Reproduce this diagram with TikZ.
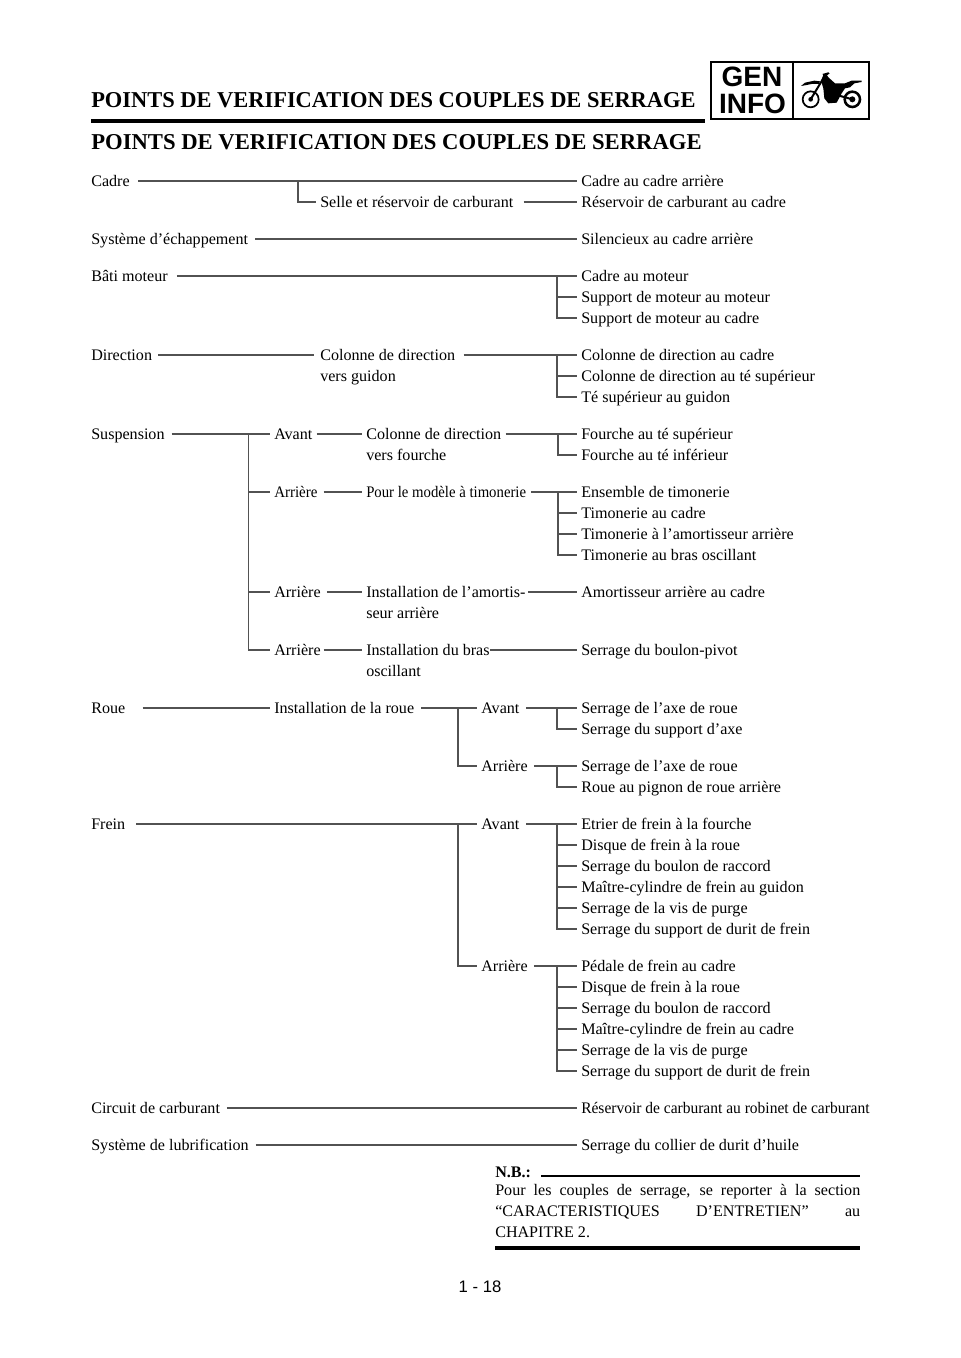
\documentclass[tikz,border=0pt]{standalone}
\usepackage{fontspec}
\setmainfont{Liberation Serif}
\newfontfamily\headsans{Liberation Sans}
\usetikzlibrary{positioning,calc}

\tikzset{
lbl/.style={anchor=west,inner xsep=0pt,inner ysep=0pt,text height=10pt,text depth=2pt,font=\fontsize{12.07}{14}\selectfont},
link/.style={draw=black!68,line width=1pt},
fat/.style={draw=black,line width=2pt},
headline/.style={anchor=base west,inner sep=0pt,font=\fontsize{17}{20}\bfseries\selectfont}
}
\newcommand{\tight}[2]{\scalebox{#1}[1]{#2}}

\begin{document}
\begin{tikzpicture}[x=.75pt,y=-.75pt]
\useasboundingbox (0,0) rectangle (960,1358);
% page head
\node[headline] (head) at (91,108) {\scalebox{.99}[1]{POINTS DE VERIFICATION DES COUPLES DE SERRAGE}};
\node[headline] (title) at (91,149.5) {POINTS DE VERIFICATION DES COUPLES DE SERRAGE};
\coordinate (headl) at (91,121);
\coordinate (headr) at (705,121);
\draw[fat,line width=2.6pt] (headl) -- (headr);
% logo
\node[draw=black,line width=1.6pt,minimum width=118.5pt,minimum height=42.75pt,inner sep=0pt,anchor=north west] (logo) at (710,61) {};
\draw[line width=1.2pt] (793,61) -- (793,118);
\node[inner sep=0pt,font=\headsans\bfseries\fontsize{21}{21}\selectfont] (gen) at (752,76.5) {GEN};
\node[inner sep=0pt,font=\headsans\bfseries\fontsize{21}{21}\selectfont] (info) at (752.5,103.5) {INFO};
\begin{scope}[shift={(795,60)},x=.25pt,y=-.25pt]
\draw[line width=1.3pt] (47,118) circle (24);
\draw[line width=1.9pt] (172,118) circle (23);
\fill (47,118) circle (7) (172,118) circle (9);
\fill (18,78) -- (30,68) -- (58,62) -- (75,64) -- (72,72) -- (50,72) -- (30,76) -- cycle;
\fill (78,62) -- (85,45) -- (82,42) -- (100,37) -- (104,40) -- (96,46) -- (100,52) -- (120,70) -- (150,70) -- (170,62) -- (200,62) -- (200,66) -- (178,70) -- (165,82) -- (150,85) -- (140,100) -- (125,128) -- (100,130) -- (88,115) -- (85,85) -- cycle;
\draw[line width=1.5pt] (47,118) -- (82,60) (172,118) -- (125,105);
\end{scope}

% cadre
\node[lbl] (cadre) at (91,181) {Cadre};
\node[lbl] (selle) at (320,202) {Selle et réservoir de carburant};
\node[lbl] (cadrearr) at (581,181) {Cadre au cadre arrière};
\node[lbl] (resarr) at (581,202) {Réservoir de carburant au cadre};
\coordinate (cadrej) at (298,181);
\draw[link,shorten <=6.4pt,shorten >=3pt] (cadre.east) -- (cadrearr.west);
\draw[link,shorten >=3pt] (cadrej) |- (selle.west);
\draw[link,shorten <=7.5pt,shorten >=3pt] (selle.east) -- (resarr.west);
% echappement
\node[lbl] (echap) at (91,239) {Système d’échappement};
\node[lbl] (silenc) at (581,239) {Silencieux au cadre arrière};
\draw[link,shorten <=5pt,shorten >=3pt] (echap.east) -- (silenc.west);
% moteur
\node[lbl] (bati) at (91,276) {Bâti moteur};
\node[lbl] (mota) at (581,276) {Cadre au moteur};
\node[lbl] (motb) at (581,297) {Support de moteur au moteur};
\node[lbl] (motc) at (581,318) {Support de moteur au cadre};
\coordinate (motj) at (557,276);
\draw[link,shorten <=6.75pt,shorten >=3pt] (bati.east) -- (mota.west);
\draw[link,shorten >=3pt] (motj) |- (motb.west);
\draw[link,shorten >=3pt] (motj) |- (motc.west);
% direction
\node[lbl] (direc) at (91,355) {Direction};
\node[lbl] (colonne) at (320,355) {Colonne de direction};
\node[lbl] (guidon) at (320,376) {vers guidon};
\node[lbl] (dira) at (581,355) {Colonne de direction au cadre};
\node[lbl] (dirb) at (581,376) {Colonne de direction au té supérieur};
\node[lbl] (dirc) at (581,397) {Té supérieur au guidon};
\coordinate (dirj) at (557,355);
\draw[link,shorten <=4.5pt,shorten >=4.5pt] (direc.east) -- (colonne.west);
\draw[link,shorten <=6pt,shorten >=3pt] (colonne.east) -- (dira.west);
\draw[link,shorten >=3pt] (dirj) |- (dirb.west);
\draw[link,shorten >=3pt] (dirj) |- (dirc.west);
% suspension
\node[lbl] (susp) at (91,434) {Suspension};
\node[lbl] (avant) at (274,434) {Avant};
\node[lbl] (arra) at (274,492) {\tight{.93}{Arrière}};
\node[lbl] (arrb) at (274,592) {Arrière};
\node[lbl] (arrc) at (274,650) {Arrière};
\coordinate (suspj) at (248.5,434);
\draw[link,shorten <=5pt,shorten >=3pt] (susp.east) -- (avant.west);
\draw[link,shorten >=3pt] (suspj) |- (arra.west);
\draw[link,shorten >=3pt] (suspj) |- (arrb.west);
\draw[link,shorten >=3pt] (suspj) |- (arrc.west);
\node[lbl] (colfour) at (366,434) {Colonne de direction};
\node[lbl] (vfour) at (366,455) {vers fourche};
\node[lbl] (modele) at (366,492) {\tight{.917}{Pour le modèle à timonerie}};
\node[lbl] (amort) at (366,592) {Installation de l’amortis-};
\node[lbl] (samort) at (366,613) {seur arrière};
\node[lbl] (bras) at (366,650) {Installation du bras};
\node[lbl] (osc) at (366,671) {oscillant};
\draw[link,shorten <=3pt,shorten >=3pt] (avant.east) -- (colfour.west);
\draw[link,shorten <=4.5pt,shorten >=3pt] (arra.east) -- (modele.west);
\draw[link,shorten <=4.5pt,shorten >=3pt] (arrb.east) -- (amort.west);
\draw[link,shorten <=2pt,shorten >=3pt] (arrc.east) -- (bras.west);
\node[lbl] (foua) at (581,434) {Fourche au té supérieur};
\node[lbl] (foub) at (581,455) {Fourche au té inférieur};
\node[lbl] (tima) at (581,492) {Ensemble de timonerie};
\node[lbl] (timb) at (581,513) {Timonerie au cadre};
\node[lbl] (timc) at (581,534) {Timonerie à l’amortisseur arrière};
\node[lbl] (timd) at (581,555) {Timonerie au bras oscillant};
\node[lbl] (amorta) at (581,592) {Amortisseur arrière au cadre};
\node[lbl] (pivot) at (581,650) {Serrage du boulon-pivot};
\coordinate (fouj) at (558,434);
\coordinate (timj) at (558,492);
\draw[link,shorten <=3pt,shorten >=3pt] (colfour.east) -- (foua.west);
\draw[link,shorten >=3pt] (fouj) |- (foub.west);
\draw[link,shorten <=3.75pt,shorten >=3pt] (modele.east) -- (tima.west);
\draw[link,shorten >=3pt] (timj) |- (timb.west);
\draw[link,shorten >=3pt] (timj) |- (timc.west);
\draw[link,shorten >=3pt] (timj) |- (timd.west);
\draw[link,shorten <=2pt,shorten >=3pt] (amort.east) -- (amorta.west);
\draw[link,shorten >=3pt] (bras.east) -- (pivot.west);
% roue
\node[lbl] (roue) at (91,708) {Roue};
\node[lbl] (instroue) at (274,708) {Installation de la roue};
\node[lbl] (ravant) at (481,708) {Avant};
\node[lbl] (rarr) at (481,766) {Arrière};
\node[lbl] (roua) at (581,708) {Serrage de l’axe de roue};
\node[lbl] (roub) at (581,729) {Serrage du support d’axe};
\node[lbl] (rouc) at (581,766) {Serrage de l’axe de roue};
\node[lbl] (roud) at (581,787) {Roue au pignon de roue arrière};
\coordinate (rouej) at (458,708);
\coordinate (rouaj) at (557,708);
\coordinate (roucj) at (557,766);
\draw[link,shorten <=12.75pt,shorten >=3pt] (roue.east) -- (instroue.west);
\draw[link,shorten <=5pt,shorten >=3pt] (instroue.east) -- (ravant.west);
\draw[link,shorten >=3pt] (rouej) |- (rarr.west);
\draw[link,shorten <=5pt,shorten >=3pt] (ravant.east) -- (roua.west);
\draw[link,shorten >=3pt] (rouaj) |- (roub.west);
\draw[link,shorten <=4.5pt,shorten >=3pt] (rarr.east) -- (rouc.west);
\draw[link,shorten >=3pt] (roucj) |- (roud.west);
% frein
\node[lbl] (frein) at (91,824) {Frein};
\node[lbl] (favant) at (481,824) {Avant};
\node[lbl] (farr) at (481,966) {Arrière};
\coordinate (freinj) at (458,824);
\draw[link,shorten <=8pt,shorten >=3pt] (frein.east) -- (favant.west);
\draw[link,shorten >=3pt] (freinj) |- (farr.west);
\node[lbl] (fra) at (581,824) {Etrier de frein à la fourche};
\node[lbl] (frb) at (581,845) {Disque de frein à la roue};
\node[lbl] (frc) at (581,866) {Serrage du boulon de raccord};
\node[lbl] (frd) at (581,887) {Maître-cylindre de frein au guidon};
\node[lbl] (fre) at (581,908) {Serrage de la vis de purge};
\node[lbl] (frf) at (581,929) {Serrage du support de durit de frein};
\coordinate (fraj) at (557,824);
\draw[link,shorten <=5pt,shorten >=3pt] (favant.east) -- (fra.west);
\draw[link,shorten >=3pt] (fraj) |- (frb.west);
\draw[link,shorten >=3pt] (fraj) |- (frc.west);
\draw[link,shorten >=3pt] (fraj) |- (frd.west);
\draw[link,shorten >=3pt] (fraj) |- (fre.west);
\draw[link,shorten >=3pt] (fraj) |- (frf.west);
\node[lbl] (frg) at (581,966) {Pédale de frein au cadre};
\node[lbl] (frh) at (581,987) {Disque de frein à la roue};
\node[lbl] (fri) at (581,1008) {Serrage du boulon de raccord};
\node[lbl] (frk) at (581,1029) {Maître-cylindre de frein au cadre};
\node[lbl] (frl) at (581,1050) {Serrage de la vis de purge};
\node[lbl] (frm) at (581,1071) {Serrage du support de durit de frein};
\coordinate (frgj) at (557,966);
\draw[link,shorten <=4.5pt,shorten >=3pt] (farr.east) -- (frg.west);
\draw[link,shorten >=3pt] (frgj) |- (frh.west);
\draw[link,shorten >=3pt] (frgj) |- (fri.west);
\draw[link,shorten >=3pt] (frgj) |- (frk.west);
\draw[link,shorten >=3pt] (frgj) |- (frl.west);
\draw[link,shorten >=3pt] (frgj) |- (frm.west);
% carburant, huile
\node[lbl] (circ) at (91,1108) {Circuit de carburant};
\node[lbl] (robinet) at (581,1108) {\tight{.963}{Réservoir de carburant au robinet de carburant}};
\node[lbl] (lub) at (91,1145) {Système de lubrification};
\node[lbl] (huile) at (581,1145) {Serrage du collier de durit d’huile};
\draw[link,shorten <=5pt,shorten >=3pt] (circ.east) -- (robinet.west);
\draw[link,shorten <=5pt,shorten >=3pt] (lub.east) -- (huile.west);
% note
\node[lbl,font=\fontsize{12.07}{14}\bfseries\selectfont] (nb) at (495,1172) {N.B.:};
\coordinate (nbr) at (860,1176);
\draw[fat] (nb.east|-nbr) ++(10,0) -- (nbr);
\node[anchor=north west,inner sep=0pt,text width=273.75pt,align=justify,font=\fontsize{12.07}{15.75}\selectfont] (note) at (495,1184) {Pour les couples de serrage, se reporter à la section\linebreak “CARACTERISTIQUES D’ENTRETIEN” au\linebreak CHAPITRE 2.};
\coordinate (notel) at (495,1248);
\coordinate (noter) at (860,1248);
\draw[fat,line width=2.4pt] (notel) -- (noter);
\node[inner sep=0pt,font=\headsans\fontsize{12.5}{15}\selectfont] (page) at (480,1287) {1 - 18};
\end{tikzpicture}
\end{document}
